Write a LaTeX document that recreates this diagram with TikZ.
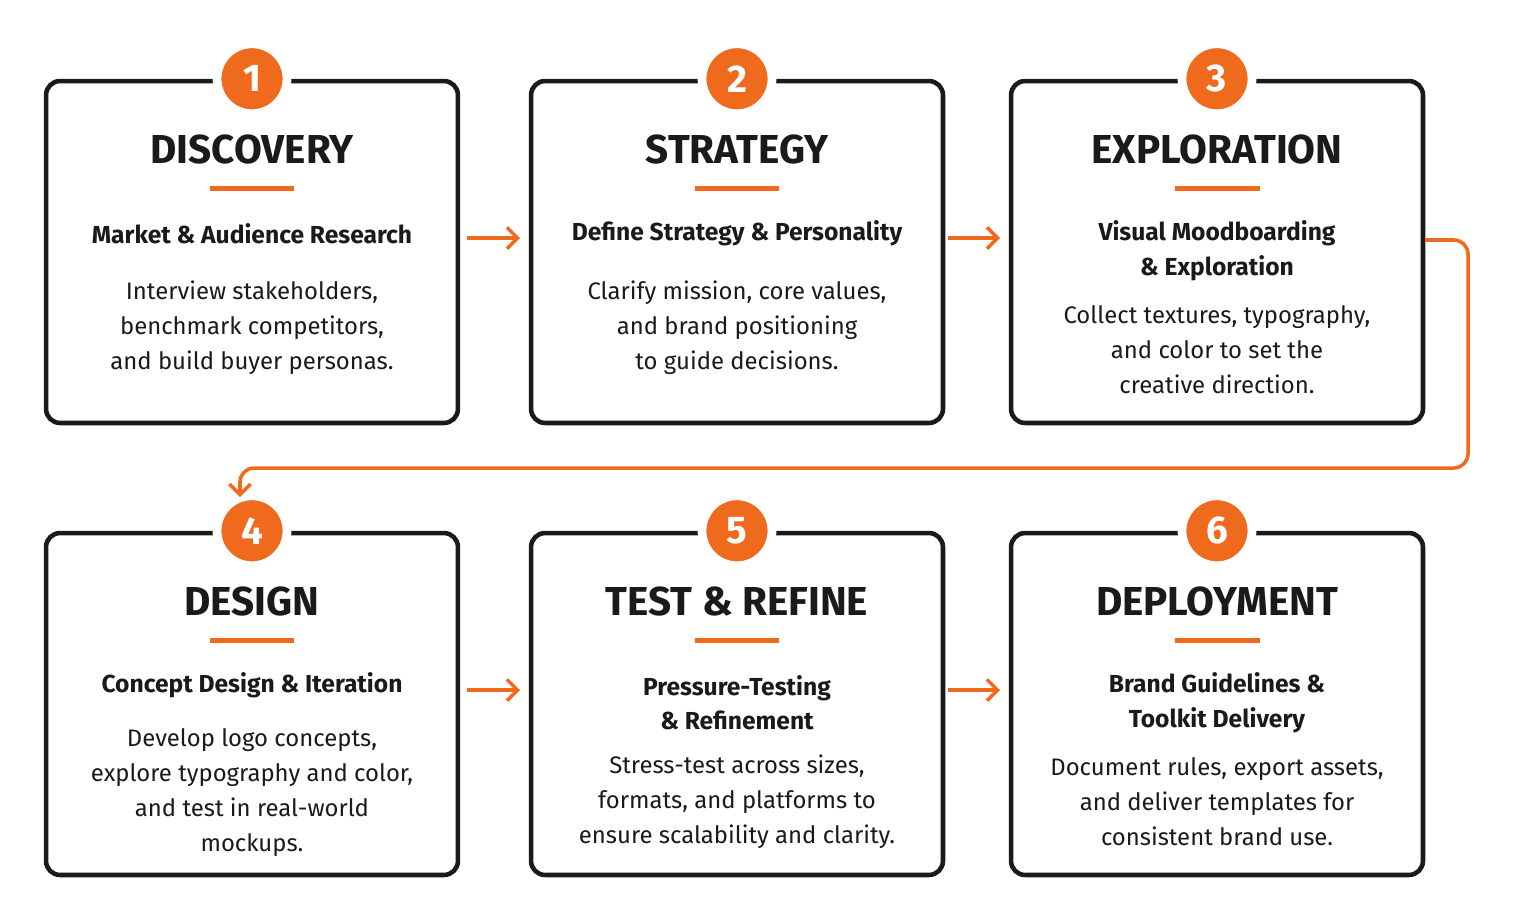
\documentclass[tikz,border=0pt]{standalone}
\usepackage{fontspec}
\setmainfont{Fira Sans}
\usetikzlibrary{positioning,arrows.meta}
\definecolor{accent}{HTML}{F06A1D}
\definecolor{ink}{HTML}{1A1A1A}
\tikzset{
  box/.style={draw=ink,line width=2.6pt,rounded corners=8pt,minimum width=8.24cm,minimum height=6.84cm},
  num/.style={circle,fill=accent,draw=white,line width=5pt,minimum size=1.4cm,text=white,font=\fontsize{22}{22}\selectfont\bfseries},
  ttl/.style={font=\fontsize{23}{26}\selectfont\bfseries,text=ink},
  bar/.style={fill=accent,minimum width=1.7cm,minimum height=0.1cm,inner sep=0pt},
  sub/.style={font=\fontsize{14}{19.5}\selectfont\bfseries,text=ink,align=center},
  body/.style={font=\fontsize{13.6}{20}\selectfont,text=ink,align=center},
  flow/.style={draw=accent,line width=2pt,-{Straight Barb[length=6pt,width=12pt]}}
}
\begin{document}
\begin{tikzpicture}[x=0.02cm,y=-0.02cm]
\useasboundingbox[fill=white] (0,0) rectangle (1515,920);
% row one
\node[box] (b1) at (252,252) {};
\node[box] (b2) at (737,252) {};
\node[box] (b3) at (1217,252) {};
% row two
\node[box] (b4) at (252,704) {};
\node[box] (b5) at (737,704) {};
\node[box] (b6) at (1217,704) {};
\foreach \i in {1,...,6}{
  \node[num] (n\i) at (b\i.north) {\i};
  \node[ttl] (t\i) at ([yshift=-1.42cm]b\i.north) {};
  \node[bar] (r\i) at ([yshift=-2.2cm]b\i.north) {};
}
\node[ttl] at (t1) {DISCOVERY};
\node[ttl] at (t2) {STRATEGY};
\node[ttl] at (t3) {EXPLORATION};
\node[ttl] at (t4) {DESIGN};
\node[ttl] at (t5) {TEST \& REFINE};
\node[ttl] at (t6) {DEPLOYMENT};
% texts
\node[sub] (s1) at ([yshift=-3.1cm]b1.north) {Market \& Audience Research};
\node[body] (d1) at ([yshift=-4.98cm]b1.north) {Interview stakeholders,\\benchmark competitors,\\and build buyer personas.};
\node[sub] (s2) at ([yshift=-3.1cm]b2.north) {Define Strategy \& Personality};
\node[body] (d2) at ([yshift=-4.98cm]b2.north) {Clarify mission, core values,\\and brand positioning\\to guide decisions.};
\node[sub] (s3) at ([yshift=-3.44cm]b3.north) {Visual Moodboarding\\\& Exploration};
\node[body] (d3) at ([yshift=-5.42cm]b3.north) {Collect textures, typography,\\and color to set the\\creative direction.};
\node[sub] (s4) at ([yshift=-3.1cm]b4.north) {Concept Design \& Iteration};
\node[body] (d4) at ([yshift=-5.24cm]b4.north) {Develop logo concepts,\\explore typography and color,\\and test in real-world\\mockups.};
\node[sub] (s5) at ([yshift=-3.44cm]b5.north) {Pressure-Testing\\\& Refinement};
\node[body] (d5) at ([yshift=-5.42cm]b5.north) {Stress-test across sizes,\\formats, and platforms to\\ensure scalability and clarity.};
\node[sub] (s6) at ([yshift=-3.44cm]b6.north) {Brand Guidelines \&\\Toolkit Delivery};
\node[body] (d6) at ([yshift=-5.42cm]b6.north) {Document rules, export assets,\\and deliver templates for\\consistent brand use.};
% connectors
\coordinate (a1) at (467,238); \coordinate (a2) at (520,238);
\coordinate (a3) at (948,238); \coordinate (a4) at (1000,238);
\coordinate (a5) at (467,690); \coordinate (a6) at (520,690);
\coordinate (a7) at (948,690); \coordinate (a8) at (1000,690);
\draw[flow] (a1) -- (a2);
\draw[flow] (a3) -- (a4);
\draw[flow] (a5) -- (a6);
\draw[flow] (a7) -- (a8);
\coordinate (w1) at (1425,240);
\coordinate (w2) at (240,497);
\draw[flow,rounded corners=8pt] (w1) -| (1468,468) -| (w2);
\end{tikzpicture}
\end{document}
